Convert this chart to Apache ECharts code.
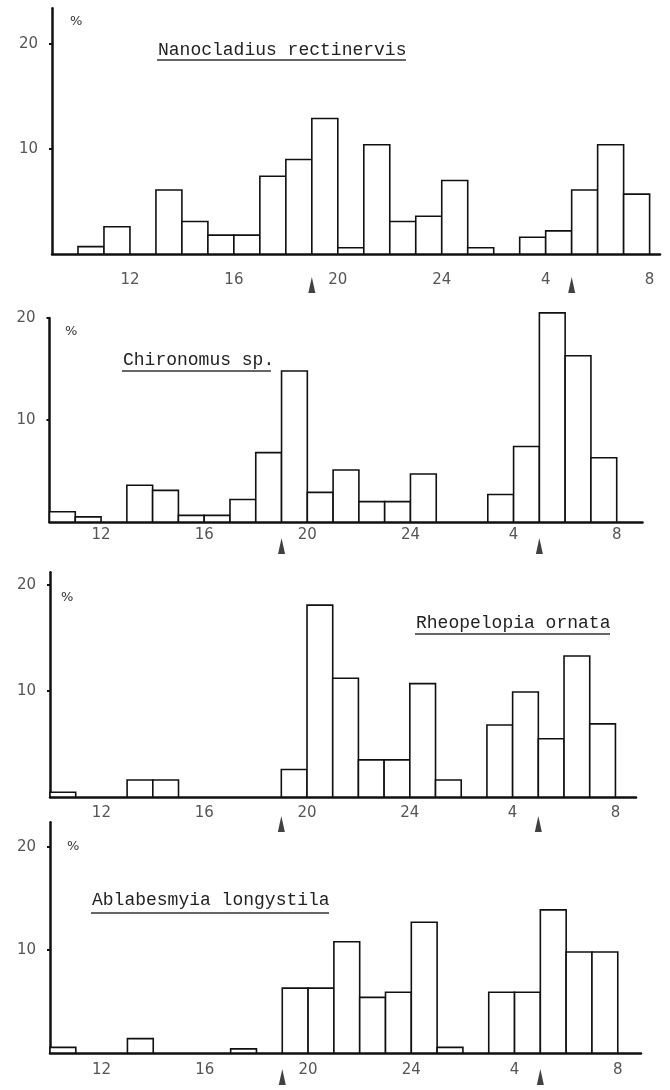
<!DOCTYPE html>
<html>
<head>
<meta charset="utf-8">
<script src="https://cdn.jsdelivr.net/npm/echarts@6/dist/echarts.min.js"></script>
<style>
html,body{margin:0;padding:0;background:#fff;}
#chart{width:670px;height:1090px;}
</style>
</head>
<body>
<div id="chart"></div>
<script>
// start hour of each one-hour interval (10 = 10:00-11:00 ... 31 = 7:00-8:00 next day)
const hours = [10,11,12,13,14,15,16,17,18,19,20,21,22,23,24,25,26,27,28,29,30,31];
// emergence (%) per interval; null = no bar
const nanocladius = [0.7,2.6,null,6.1,3.1,1.8,1.8,7.4,9.0,12.9,0.6,10.4,3.1,3.6,7.0,0.6,null,1.6,2.2,6.1,10.4,5.7];
const chironomus  = [1.0,0.5,null,3.6,3.1,0.65,0.65,2.2,6.8,14.8,2.9,5.1,2.0,2.0,4.7,null,null,2.7,7.4,20.5,16.3,6.3];
const rheopelopia = [0.45,null,null,1.6,1.6,null,null,null,null,2.6,18.1,11.2,3.5,3.5,10.7,1.6,null,6.8,9.9,5.5,13.3,6.9];
const ablabesmyia = [0.55,null,null,1.4,null,null,null,0.4,null,6.3,6.3,10.8,5.4,5.9,12.7,0.55,null,5.9,5.9,13.9,9.8,9.8];
const speciesNames = ['Nanocladius rectinervis','Chironomus sp.','Rheopelopia ornata','Ablabesmyia longystila'];
const xTickHours = [12,16,20,24,28,32];
const yTickValues = [10,20];
const markerHours = [19,29]; // sunset / sunrise arrows

const seriesValues = [nanocladius, chironomus, rheopelopia, ablabesmyia];

// layout per panel
const panels = [
  {left:52, top:8.3, width:608, height:245.7, xmin:9,  xmax:32.4, ymax:23.4, labelMargin:19, arrowOff:31,
   title:{x:158, y:51, w:248, uy:60}, pct:{x:75, y:22}},
  {left:49.5, top:318, width:593, height:204, xmin:10, xmax:33, ymax:20, labelMargin:6, arrowOff:24,
   title:{x:123, y:361, w:148, uy:371}, pct:{x:70, y:332}},
  {left:50, top:572.3, width:586, height:224.7, xmin:10, xmax:32.8, ymax:21.2, labelMargin:9, arrowOff:27,
   title:{x:416, y:624, w:194, uy:634}, pct:{x:66, y:598}},
  {left:50, top:822.3, width:591, height:230.7, xmin:10, xmax:32.9, ymax:22.4, labelMargin:10, arrowOff:24,
   title:{x:92, y:901, w:237, uy:913}, pct:{x:72, y:847}}
];

const numFont = 'DejaVu Sans';
const grids = [], xAxes = [], yAxes = [], series = [], graphics = [];

panels.forEach((p, i) => {
  grids.push({left:p.left, top:p.top, width:p.width, height:p.height});
  xAxes.push({
    type:'value', gridIndex:i, min:p.xmin, max:p.xmax,
    axisLine:{show:true, onZero:false, lineStyle:{color:'#111', width:2.5}},
    axisTick:{show:false},
    splitLine:{show:false},
    axisLabel:{customValues:xTickHours, margin:p.labelMargin, color:'#555', fontFamily:numFont, fontSize:15,
      formatter: v => String(v > 24 ? v - 24 : v)}
  });
  yAxes.push({
    type:'value', gridIndex:i, min:0, max:p.ymax,
    axisLine:{show:true, onZero:false, lineStyle:{color:'#111', width:2.5}},
    axisTick:{show:true, customValues:yTickValues, length:3, lineStyle:{color:'#111', width:2}},
    splitLine:{show:false},
    axisLabel:{customValues:yTickValues, margin:14, color:'#555', fontFamily:numFont, fontSize:15}
  });
  const vals = seriesValues[i];
  const data = [];
  hours.forEach((h, k) => { if (vals[k] != null) data.push([h, vals[k]]); });
  series.push({
    type:'custom', xAxisIndex:i, yAxisIndex:i, clip:false, z:3,
    data:data,
    renderItem:(params, api) => {
      const t = api.value(0), v = api.value(1);
      const p0 = api.coord([t, 0]);
      const p1 = api.coord([t + 1, v]);
      return {type:'rect',
        shape:{x:p0[0], y:p1[1], width:p1[0] - p0[0], height:p0[1] - p1[1]},
        style:{fill:'#fff', stroke:'#111', lineWidth:1.6}};
    }
  });
  series.push({
    type:'scatter', xAxisIndex:i, yAxisIndex:i, clip:false, z:4,
    data: markerHours.map(h => [h, 0]),
    symbol:'triangle', symbolSize:[7,16], symbolOffset:[0, p.arrowOff],
    itemStyle:{color:'#111'}, silent:true
  });
  graphics.push({type:'text', left:p.title.x, top:p.title.y - 10,
    style:{text:speciesNames[i], fill:'#222', font:'18px "Liberation Mono"'}});
  graphics.push({type:'line', shape:{x1:p.title.x - 1, y1:p.title.uy, x2:p.title.x + p.title.w, y2:p.title.uy},
    style:{stroke:'#333', lineWidth:1.5}});
  graphics.push({type:'text', left:p.pct.x - 5, top:p.pct.y - 7,
    style:{text:'%', fill:'#333', font:'13px "DejaVu Sans"'}});
});

const chart = echarts.init(document.getElementById('chart'), null, {renderer:'canvas'});
chart.setOption({
  backgroundColor:'#fff',
  animation:false,
  grid:grids, xAxis:xAxes, yAxis:yAxes, series:series, graphic:graphics
});
</script>
</body>
</html>
